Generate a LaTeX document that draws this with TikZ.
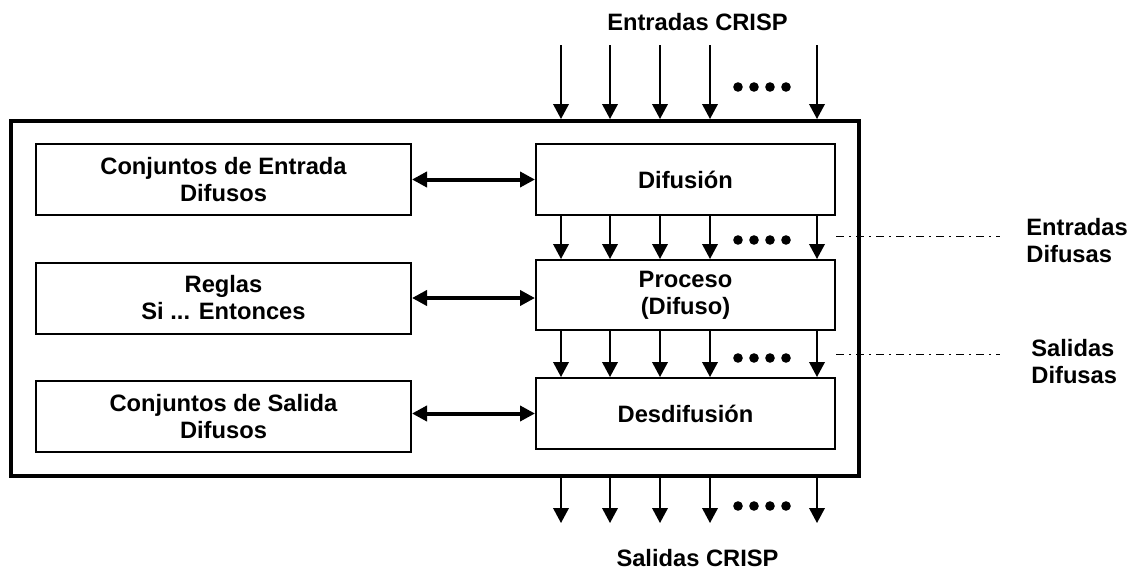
\documentclass[tikz,border=0pt]{standalone}
\usepackage{fontspec}
\setmainfont{Liberation Sans}
\usetikzlibrary{arrows.meta}
\begin{document}
\begin{tikzpicture}[x=0.5pt,y=-0.5pt,
  txt/.style={font=\fontsize{11.85}{13.5}\selectfont\bfseries, align=center, inner sep=0pt},
  sidetxt/.style={font=\fontsize{11.85}{13.5}\selectfont\bfseries, align=left, inner sep=0pt, anchor=base west},
  block/.style={txt, draw, line width=1pt},
  leftblock/.style={block, minimum width=187.5pt, minimum height=35.5pt},
  rightblock/.style={block, minimum width=149.5pt, minimum height=35.5pt},
  system/.style={draw, line width=2pt, inner sep=0pt},
  flow/.style={line width=0.9pt, -{Triangle[length=7.5pt,width=7.8pt]}},
  link/.style={line width=2pt, {Triangle[length=7.5pt,width=7.5pt]}-{Triangle[length=7.5pt,width=7.5pt]}},
  guide/.style={line width=0.5pt, dash pattern=on 4pt off 2.5pt on 1pt off 2.5pt},
  more/.style={fill=black}
]
\useasboundingbox (0,0) rectangle (1135,578);

% enclosing controller
\node[system, minimum width=424pt, minimum height=177.5pt] (sys) at (435,298.5) {};

% knowledge base (left) and processing chain (right)
\node[leftblock] (cin) at (223.5,179.5) {Conjuntos de Entrada\\Difusos};
\node[leftblock] (rules) at (223.5,298) {Reglas\\Si ... Entonces};
\node[leftblock] (cout) at (223.5,416.5) {Conjuntos de Salida\\Difusos};
\node[rightblock] (fuzz) at (685.5,179.5) {Difusión};
\node[rightblock, minimum height=35pt] (proc) at (685.5,295) {Proceso\\(Difuso)};
\node[rightblock] (defuzz) at (685.5,413.5) {Desdifusión};

% two-way links
\draw[link] (cin.east) -- (fuzz.west);
\draw[link] (rules.east) -- (rules.east -| proc.west);
\draw[link] (cout.east |- defuzz.west) -- (defuzz.west);

% signal columns
\foreach \x [count=\i] in {561,610,660,710,817} {
  \coordinate (top\i) at (\x,45);
  \coordinate (bot\i) at (\x,523);
  \draw[flow] (top\i) -- (top\i |- sys.north);
  \draw[flow] (top\i |- fuzz.south) -- (top\i |- proc.north);
  \draw[flow] (top\i |- proc.south) -- (top\i |- defuzz.north);
  \draw[flow] (bot\i |- sys.south) -- (bot\i);
}

% ellipsis dots
\foreach \y in {87,240,358,506}
  \foreach \x in {738,754,770,786}
    \fill[more] (\x,\y) circle[radius=2.4pt];

% leader lines to the side labels
\coordinate (g1) at (1000,236);
\coordinate (g2) at (1000,354);
\draw[guide] (fuzz.east |- g1) -- (g1);
\draw[guide] (fuzz.east |- g2) -- (g2);

% labels
\node[txt, anchor=base] (crispin) at (697.5,30) {Entradas CRISP};
\node[txt, anchor=base] (crispout) at (697.5,566) {Salidas CRISP};
\node[sidetxt] (inl) at (1026,262) {Entradas\\Difusas};
\node[sidetxt] (outl) at (1031,383) {Salidas\\Difusas};
\end{tikzpicture}
\end{document}
